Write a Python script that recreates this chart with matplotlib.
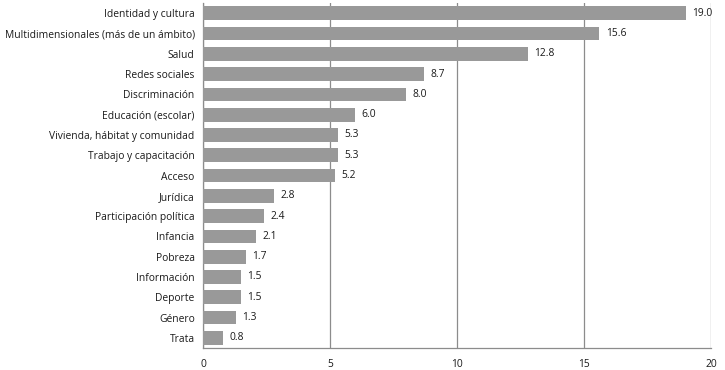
import matplotlib
matplotlib.use("Agg")
import matplotlib.pyplot as plt

categories = ["Identidad y cultura", "Multidimensionales (más de un ámbito)", "Salud",
              "Redes sociales", "Discriminación", "Educación (escolar)",
              "Vivienda, hábitat y comunidad", "Trabajo y capacitación", "Acceso",
              "Jurídica", "Participación política", "Infancia", "Pobreza",
              "Información", "Deporte", "Género", "Trata"]
values = [19.0, 15.6, 12.8, 8.7, 8.0, 6.0, 5.3, 5.3, 5.2, 2.8, 2.4, 2.1, 1.7, 1.5, 1.5, 1.3, 0.8]
xticks = [0, 5, 10, 15, 20]

plt.rcParams['font.family'] = ['Open Sans', 'DejaVu Sans']
FS = 7.4
fig = plt.figure(figsize=(7.25, 3.70), dpi=100)
ax = fig.add_axes([0.28, 0.0595, 0.701, 0.932])

y = list(range(len(categories)))
ax.barh(y, values, height=0.68, color="#999999", zorder=3)
for yi, v in zip(y, values):
    ax.text(v + 0.25, yi, f"{v:.1f}", va="center", ha="left", fontsize=FS, color="#1a1a1a", zorder=4)

ax.set_yticks(y)
ax.set_yticklabels(categories, fontsize=FS, color="#1a1a1a")
ax.set_ylim(len(categories) - 0.5, -0.5)
ax.set_xlim(0, 20)
ax.set_xticks(xticks)
ax.set_xticklabels([str(t) for t in xticks], fontsize=FS, color="#1a1a1a")
ax.tick_params(axis="y", length=0, pad=6)
ax.tick_params(axis="x", length=0, pad=8)
ax.xaxis.grid(True, color="#8c8c8c", linewidth=0.9, zorder=0)
for s in ["top", "right"]:
    ax.spines[s].set_visible(False)
for s in ["left", "bottom"]:
    ax.spines[s].set_color("#8c8c8c")
    ax.spines[s].set_linewidth(0.9)

fig.savefig("out.png", dpi=100)
